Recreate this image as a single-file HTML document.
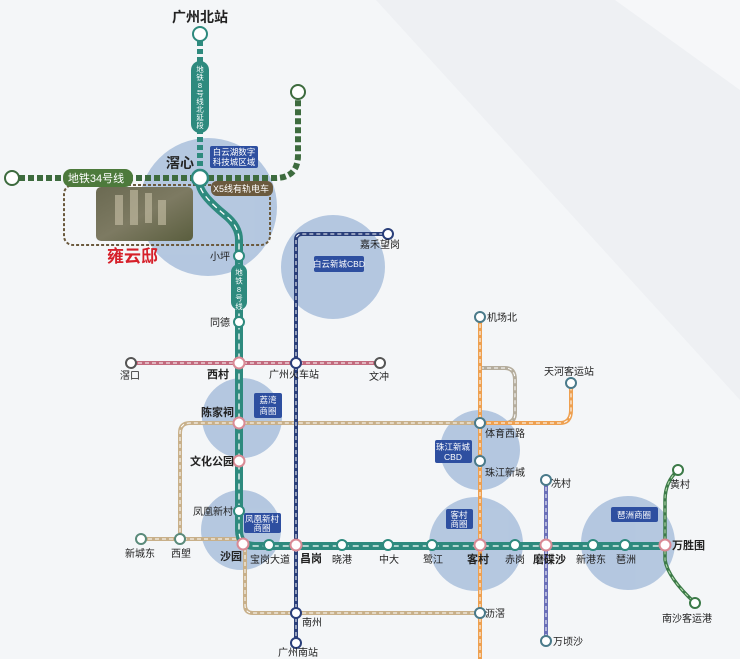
<!DOCTYPE html>
<html><head><meta charset="utf-8"><style>
html,body{margin:0;padding:0;width:740px;height:659px;overflow:hidden;background:#f3f5f7}
svg{display:block}
text{font-family:"Liberation Sans","Noto Sans CJK SC",sans-serif;fill:#222}
</style></head><body>
<svg width="740" height="659" viewBox="0 0 740 659" xmlns="http://www.w3.org/2000/svg">
<defs>
<linearGradient id="img" x1="0" y1="0" x2="1" y2="1">
<stop offset="0" stop-color="#6b6a52"/><stop offset="0.5" stop-color="#7d7a62"/><stop offset="1" stop-color="#5a5e3e"/></linearGradient>
</defs>
<rect width="740" height="659" fill="#f4f6f8"/>
<polygon points="376,0 740,0 740,400" fill="#eef0f3"/>
<polygon points="615,0 740,0 740,90" fill="#f6f7f9"/>

<g fill="#a9bfdc" opacity="0.85">
<circle cx="208" cy="207" r="69"/>
<circle cx="333" cy="267" r="52"/>
<circle cx="242" cy="418" r="40"/>
<circle cx="241" cy="530" r="40"/>
<circle cx="480" cy="450" r="40"/>
<circle cx="476" cy="544" r="47"/>
<circle cx="628" cy="543" r="47"/>
</g>

<rect x="64" y="185" width="206" height="60" rx="9" fill="none" stroke="#6b5a3e" stroke-width="2" stroke-dasharray="3,2"/>
<rect x="96" y="187" width="97" height="54" rx="5" fill="url(#img)"/>
<g fill="#c9c2a8" opacity="0.6"><rect x="115" y="195" width="8" height="30"/><rect x="130" y="190" width="8" height="35"/><rect x="145" y="193" width="7" height="30"/><rect x="158" y="200" width="8" height="25"/></g>

<g fill="none">
<path d="M180,539 V433 Q180,423 190,423 H480" stroke="#c8b08a" stroke-width="4"/>
<path d="M180,539 V433 Q180,423 190,423 H480" stroke="#fff" stroke-width="1" stroke-dasharray="4,3"/>
<path d="M141,539 H243 M245,548 V605 Q245,613 253,613 H480" stroke="#c8b08a" stroke-width="4"/>
<path d="M141,539 H243 M245,548 V605 Q245,613 253,613 H480" stroke="#fff" stroke-width="1" stroke-dasharray="4,3"/>
<path d="M480,368 H505 Q515,368 515,380 V413 Q515,423 505,423 H480" stroke="#b5ad9d" stroke-width="4"/>
<path d="M480,368 H505 Q515,368 515,380 V413 Q515,423 505,423 H480" stroke="#fff" stroke-width="1" stroke-dasharray="4,3"/>
<path d="M480,317 V659 M480,423 H560 Q571,423 571,410 V383" stroke="#eea050" stroke-width="4"/>
<path d="M480,317 V659 M480,423 H560 Q571,423 571,410 V383" stroke="#fff" stroke-width="1" stroke-dasharray="4,3"/>
<path d="M131,363 H380" stroke="#c26a7e" stroke-width="4"/>
<path d="M131,363 H380" stroke="#fff" stroke-width="1" stroke-dasharray="4,3"/>
<path d="M296,643 V240 Q296,234 302,234 H388" stroke="#2a3f7a" stroke-width="4"/>
<path d="M296,643 V240 Q296,234 302,234 H388" stroke="#fff" stroke-width="1" stroke-dasharray="4,3"/>
<path d="M546,480 V641" stroke="#6a6fb8" stroke-width="4"/>
<path d="M546,480 V641" stroke="#fff" stroke-width="1" stroke-dasharray="4,3"/>
<path d="M678,470 Q665,482 665,500 V560 Q668,578 695,603" stroke="#3c7a48" stroke-width="3.5"/>
<path d="M678,470 Q665,482 665,500 V560 Q668,578 695,603" stroke="#b8dcb0" stroke-width="1" stroke-dasharray="4,3"/>
<path d="M200,178 V186 Q202,196 225,215 Q239,226 239,240 V530 Q239,546 255,546 H665" stroke="#2e8a7e" stroke-width="8"/>
<path d="M200,178 V186 Q202,196 225,215 Q239,226 239,240 V530 Q239,546 255,546 H665" stroke="#fff" stroke-width="1.3" stroke-dasharray="6,4"/>
<path d="M200,41 V172" stroke="#2e8a7e" stroke-width="6" stroke-dasharray="5,3"/>
<path d="M19,178 H275 Q298,178 298,155 V99" stroke="#3d6b3e" stroke-width="6" stroke-dasharray="6,3"/>
</g>

<rect x="191" y="61" width="18" height="72" rx="9" fill="#2e8a7e"/>
<text x="200" y="72" font-size="7.5" text-anchor="middle" style="fill:#fff">
<tspan x="200" dy="0">地</tspan><tspan x="200" dy="8">铁</tspan><tspan x="200" dy="8">8</tspan><tspan x="200" dy="8">号</tspan><tspan x="200" dy="8">线</tspan><tspan x="200" dy="8">北</tspan><tspan x="200" dy="8">延</tspan><tspan x="200" dy="8">段</tspan></text>
<rect x="231" y="264" width="16" height="46" rx="8" fill="#2e8a7e"/>
<text x="239" y="275" font-size="7.5" text-anchor="middle" style="fill:#fff">
<tspan x="239" dy="0">地</tspan><tspan x="239" dy="8.5">铁</tspan><tspan x="239" dy="8.5">8</tspan><tspan x="239" dy="8.5">号</tspan><tspan x="239" dy="8.5">线</tspan></text>
<rect x="63" y="169" width="70" height="18" rx="8" fill="#4d7a3c"/>
<text x="96" y="182" font-size="11" text-anchor="middle" style="fill:#fff">地铁34号线</text>
<rect x="211" y="181" width="62" height="15" rx="6" fill="#6b5a3e"/>
<text x="241" y="192" font-size="9" text-anchor="middle" style="fill:#fff">X5线有轨电车</text>

<g fill="#2e4fa0">
<rect x="210" y="146" width="48" height="22" rx="2"/>
<rect x="314" y="256" width="50" height="16" rx="2"/>
<rect x="254" y="393" width="28" height="25" rx="2"/>
<rect x="244" y="513" width="37" height="20" rx="2"/>
<rect x="435" y="440" width="37" height="23" rx="2"/>
<rect x="446" y="509" width="27" height="20" rx="2"/>
<rect x="611" y="507" width="47" height="15" rx="2"/>
</g>
<g font-size="8.5" text-anchor="middle">
<text x="234" y="155" style="fill:#fff">白云湖数字</text><text x="234" y="165" style="fill:#fff">科技城区域</text>
<text x="339" y="267" style="fill:#fff">白云新城CBD</text>
<text x="268" y="403" style="fill:#fff">荔湾</text><text x="268" y="414" style="fill:#fff">商圈</text>
<text x="262" y="522" style="fill:#fff">凤凰新村</text><text x="262" y="531" style="fill:#fff">商圈</text>
<text x="453" y="450" style="fill:#fff">珠江新城</text><text x="453" y="460" style="fill:#fff">CBD</text>
<text x="459" y="518" style="fill:#fff">客村</text><text x="459" y="527" style="fill:#fff">商圈</text>
<text x="634" y="518" style="fill:#fff">琶洲商圈</text>
</g>

<g fill="#fff" stroke="#2e8a7e" stroke-width="2">
<circle cx="200" cy="34" r="7"/><circle cx="12" cy="178" r="7" stroke="#3d6b3e"/><circle cx="298" cy="92" r="7" stroke="#3d6b3e"/>
<circle cx="200" cy="178" r="8" stroke="#2e8a7e" stroke-width="2.5"/>
<circle cx="239" cy="256" r="5"/><circle cx="239" cy="322" r="5"/><circle cx="239" cy="511" r="5"/>
<circle cx="269" cy="545" r="5"/><circle cx="342" cy="545" r="5"/><circle cx="388" cy="545" r="5"/><circle cx="432" cy="545" r="5"/><circle cx="515" cy="545" r="5"/><circle cx="593" cy="545" r="5"/><circle cx="625" cy="545" r="5"/>
<circle cx="388" cy="234" r="5" stroke="#2a3f7a"/><circle cx="296" cy="363" r="5" stroke="#2a3f7a"/><circle cx="296" cy="613" r="5" stroke="#2a3f7a"/><circle cx="296" cy="643" r="5" stroke="#2a3f7a"/>
<circle cx="131" cy="363" r="5" stroke="#555"/><circle cx="380" cy="363" r="5" stroke="#555"/>
<circle cx="141" cy="539" r="5" stroke="#5a8a7a"/><circle cx="180" cy="539" r="5" stroke="#5a8a7a"/>
<circle cx="480" cy="317" r="5" stroke="#4a7a8a"/><circle cx="571" cy="383" r="5" stroke="#4a7a8a"/><circle cx="480" cy="423" r="5" stroke="#4a7a8a"/><circle cx="480" cy="461" r="5" stroke="#4a7a8a"/><circle cx="480" cy="613" r="5" stroke="#4a7a8a"/>
<circle cx="546" cy="480" r="5" stroke="#4a7a8a"/><circle cx="546" cy="641" r="5" stroke="#4a7a8a"/>
<circle cx="678" cy="470" r="5" stroke="#3c7a48"/><circle cx="695" cy="603" r="5" stroke="#3c7a48"/>
</g>
<g fill="#fff" stroke="#d98a95" stroke-width="2">
<circle cx="239" cy="363" r="5.5"/><circle cx="239" cy="423" r="5.5"/><circle cx="239" cy="461" r="5.5"/><circle cx="243" cy="544" r="5.5"/>
<circle cx="296" cy="545" r="5.5"/><circle cx="480" cy="545" r="5.5"/><circle cx="546" cy="545" r="5.5"/><circle cx="665" cy="545" r="5.5"/>
</g>

<g font-size="10">
<text x="200" y="22" font-size="14" font-weight="bold" text-anchor="middle">广州北站</text>
<text x="166" y="168" font-size="14" font-weight="bold">滘心</text>
<text x="107" y="262" font-size="17" font-weight="bold" style="fill:#d6202a">雍云邸</text>
<text x="210" y="260">小坪</text>
<text x="210" y="326">同德</text>
<text x="120" y="379">滘口</text>
<text x="207" y="378" font-weight="bold" font-size="11">西村</text>
<text x="269" y="378">广州火车站</text>
<text x="369" y="380">文冲</text>
<text x="201" y="416" font-weight="bold" font-size="11">陈家祠</text>
<text x="190" y="465" font-weight="bold" font-size="11">文化公园</text>
<text x="193" y="515">凤凰新村</text>
<text x="125" y="557">新城东</text>
<text x="171" y="557">西塱</text>
<text x="220" y="560" font-weight="bold" font-size="11">沙园</text>
<text x="250" y="563">宝岗大道</text>
<text x="300" y="562" font-weight="bold" font-size="11">昌岗</text>
<text x="332" y="563">晓港</text>
<text x="379" y="563">中大</text>
<text x="423" y="563">鹭江</text>
<text x="467" y="563" font-weight="bold" font-size="11">客村</text>
<text x="505" y="563">赤岗</text>
<text x="533" y="563" font-weight="bold" font-size="11">磨碟沙</text>
<text x="576" y="563">新港东</text>
<text x="616" y="563">琶洲</text>
<text x="672" y="549" font-weight="bold" font-size="11">万胜围</text>
<text x="360" y="248">嘉禾望岗</text>
<text x="302" y="626">南州</text>
<text x="278" y="656">广州南站</text>
<text x="487" y="321">机场北</text>
<text x="544" y="375">天河客运站</text>
<text x="485" y="437">体育西路</text>
<text x="485" y="476">珠江新城</text>
<text x="551" y="487">冼村</text>
<text x="670" y="488">黄村</text>
<text x="485" y="617">沥滘</text>
<text x="553" y="645">万顷沙</text>
<text x="662" y="622">南沙客运港</text>
</g>
</svg>
</body></html>
